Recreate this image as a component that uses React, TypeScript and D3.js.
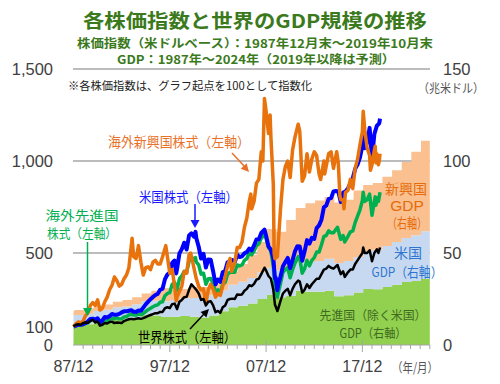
import React from "react";
import * as d3 from "d3";

const W = 500;
const H = 384;

// GDP by calendar year (trillion USD, right axis)
const gdpYears = [1987, 1988, 1989, 1990, 1991, 1992, 1993, 1994, 1995, 1996, 1997, 1998, 1999, 2000, 2001, 2002, 2003, 2004, 2005, 2006, 2007, 2008, 2009, 2010, 2011, 2012, 2013, 2014, 2015, 2016, 2017, 2018, 2019, 2020, 2021, 2022, 2023, 2024];
const gdpAdvExUS = [11, 11, 11.3, 12.5, 13, 14, 14, 14.8, 16.3, 16, 15.2, 15.3, 15.8, 15.3, 15, 16, 18.3, 20.5, 21.3, 22.5, 25, 27.3, 26, 26.7, 29.5, 29, 29, 29.5, 26.5, 27, 28.5, 30.5, 30.3, 31.5, 32.8, 34.2, 34.8, 36];
const gdpUS = [4.87, 5.25, 5.66, 5.98, 6.17, 6.54, 6.88, 7.31, 7.66, 8.1, 8.61, 9.09, 9.66, 10.28, 10.62, 10.98, 11.51, 12.27, 13.09, 13.86, 14.48, 14.72, 14.42, 14.96, 15.52, 16.16, 16.69, 17.39, 18.12, 18.62, 19.39, 20.58, 21.44, 22.3, 23.2, 24.0, 24.9, 25.8];
const gdpEmerging = [2.6, 2.75, 3.04, 2.52, 2.83, 2.96, 3.62, 3.89, 4.04, 5.4, 7.19, 5.61, 5.04, 5.92, 5.88, 6.02, 6.19, 7.23, 9.61, 12.64, 16.52, 20.98, 21.08, 26.34, 29.48, 31.84, 32.81, 33.61, 32.88, 33.38, 36.11, 35.92, 36.26, 37.7, 39, 41.3, 45.3, 49.2];

// Stock indices (USD, 1987/12 = 100, left axis)
const usStocks: [string, number][] = [
  ["1987/12", 100], ["1988/03", 105], ["1988/06", 111], ["1988/09", 110], ["1988/12", 113],
  ["1989/03", 119], ["1989/06", 129], ["1989/09", 141], ["1989/12", 143],
  ["1990/03", 138], ["1990/06", 145], ["1990/09", 124], ["1990/12", 134],
  ["1991/03", 152], ["1991/06", 150], ["1991/09", 157], ["1991/12", 169],
  ["1992/03", 164], ["1992/06", 165], ["1992/09", 169], ["1992/12", 177],
  ["1993/03", 183], ["1993/06", 183], ["1993/09", 186], ["1993/12", 189],
  ["1994/03", 181], ["1994/06", 180], ["1994/09", 187], ["1994/12", 186],
  ["1995/03", 203], ["1995/06", 221], ["1995/09", 236], ["1995/12", 249],
  ["1996/03", 261], ["1996/06", 272], ["1996/09", 278], ["1996/12", 300],
  ["1997/03", 306], ["1997/06", 358], ["1997/09", 383], ["1997/12", 393],
  ["1998/03", 446], ["1998/06", 459], ["1998/08", 389], ["1998/09", 412], ["1998/12", 498],
  ["1999/03", 521], ["1999/06", 556], ["1999/09", 519], ["1999/12", 595],
  ["2000/03", 607], ["2000/06", 589], ["2000/08", 615], ["2000/09", 581], ["2000/12", 534],
  ["2001/03", 470], ["2001/06", 496], ["2001/09", 421], ["2001/12", 465],
  ["2002/03", 464], ["2002/06", 401], ["2002/09", 330], ["2002/12", 356],
  ["2003/03", 343], ["2003/06", 395], ["2003/09", 403], ["2003/12", 450],
  ["2004/03", 456], ["2004/06", 462], ["2004/09", 451], ["2004/12", 491],
  ["2005/03", 478], ["2005/06", 482], ["2005/09", 498], ["2005/12", 505],
  ["2006/03", 524], ["2006/06", 514], ["2006/09", 541], ["2006/12", 574],
  ["2007/03", 575], ["2007/06", 609], ["2007/10", 627], ["2007/12", 594],
  ["2008/03", 536], ["2008/06", 518], ["2008/09", 472], ["2008/11", 363], ["2008/12", 366],
  ["2009/02", 298], ["2009/03", 323], ["2009/06", 372], ["2009/09", 428], ["2009/12", 451],
  ["2010/03", 473], ["2010/06", 417], ["2010/09", 462], ["2010/12", 509],
  ["2011/03", 537], ["2011/06", 535], ["2011/09", 458], ["2011/12", 509],
  ["2012/03", 570], ["2012/06", 551], ["2012/09", 583], ["2012/12", 577],
  ["2013/03", 635], ["2013/06", 650], ["2013/09", 681], ["2013/12", 748],
  ["2014/03", 758], ["2014/06", 794], ["2014/09", 798], ["2014/12", 834],
  ["2015/03", 837], ["2015/06", 835], ["2015/09", 777], ["2015/12", 828],
  ["2016/03", 834], ["2016/06", 850], ["2016/09", 878], ["2016/12", 906],
  ["2017/03", 957], ["2017/06", 981], ["2017/09", 1020], ["2017/12", 1083],
  ["2018/01", 1143], ["2018/03", 1069], ["2018/06", 1100], ["2018/09", 1180], ["2018/12", 1015],
  ["2019/03", 1147], ["2019/06", 1191], ["2019/09", 1205], ["2019/10", 1230],
];

const advStocks: [string, number][] = [
  ["1987/12", 100], ["1988/03", 108], ["1988/06", 112], ["1988/09", 110], ["1988/12", 115],
  ["1989/03", 118], ["1989/06", 122], ["1989/09", 135], ["1989/12", 140],
  ["1990/03", 133], ["1990/06", 140], ["1990/09", 118], ["1990/12", 125],
  ["1991/03", 135], ["1991/06", 133], ["1991/09", 140], ["1991/12", 145],
  ["1992/03", 143], ["1992/06", 148], ["1992/09", 142], ["1992/12", 143],
  ["1993/03", 152], ["1993/06", 155], ["1993/09", 163], ["1993/12", 168],
  ["1994/03", 163], ["1994/06", 163], ["1994/09", 168], ["1994/12", 165],
  ["1995/03", 172], ["1995/06", 182], ["1995/09", 192], ["1995/12", 200],
  ["1996/03", 208], ["1996/06", 215], ["1996/09", 218], ["1996/12", 232],
  ["1997/03", 235], ["1997/06", 268], ["1997/09", 280], ["1997/12", 285],
  ["1998/03", 330], ["1998/06", 340], ["1998/08", 295], ["1998/09", 300], ["1998/12", 360],
  ["1999/03", 375], ["1999/06", 400], ["1999/09", 395], ["1999/12", 455],
  ["2000/03", 480], ["2000/06", 460], ["2000/08", 475], ["2000/09", 450], ["2000/12", 435],
  ["2001/03", 385], ["2001/06", 390], ["2001/09", 330], ["2001/12", 360],
  ["2002/03", 362], ["2002/06", 335], ["2002/09", 290], ["2002/12", 300],
  ["2003/03", 285], ["2003/06", 330], ["2003/09", 340], ["2003/12", 385],
  ["2004/03", 395], ["2004/06", 395], ["2004/09", 395], ["2004/12", 435],
  ["2005/03", 430], ["2005/06", 435], ["2005/09", 460], ["2005/12", 470],
  ["2006/03", 500], ["2006/06", 490], ["2006/09", 510], ["2006/12", 540],
  ["2007/03", 550], ["2007/06", 580], ["2007/10", 600], ["2007/12", 580],
  ["2008/03", 530], ["2008/06", 510], ["2008/09", 425], ["2008/11", 320],
  ["2009/02", 260], ["2009/03", 280], ["2009/06", 335], ["2009/09", 395], ["2009/12", 410],
  ["2010/03", 420], ["2010/06", 365], ["2010/09", 410], ["2010/12", 445],
  ["2011/04", 480], ["2011/06", 470], ["2011/09", 390], ["2011/12", 415],
  ["2012/03", 460], ["2012/06", 430], ["2012/09", 460], ["2012/12", 475],
  ["2013/03", 505], ["2013/06", 505], ["2013/09", 545], ["2013/12", 590],
  ["2014/03", 595], ["2014/06", 620], ["2014/09", 610], ["2014/12", 610],
  ["2015/05", 640], ["2015/09", 575], ["2015/12", 595],
  ["2016/02", 560], ["2016/06", 590], ["2016/09", 615], ["2016/12", 620],
  ["2017/03", 665], ["2017/06", 700], ["2017/09", 735], ["2017/12", 785],
  ["2018/01", 830], ["2018/03", 780], ["2018/06", 790], ["2018/09", 820], ["2018/12", 705],
  ["2019/03", 780], ["2019/04", 805], ["2019/05", 760], ["2019/06", 800], ["2019/08", 780],
  ["2019/09", 805], ["2019/10", 830],
];

const emStocks: [string, number][] = [
  ["1987/12", 100], ["1988/03", 115], ["1988/06", 125], ["1988/09", 120], ["1988/12", 130],
  ["1989/03", 160], ["1989/06", 175], ["1989/09", 215], ["1989/12", 230],
  ["1990/03", 215], ["1990/06", 245], ["1990/09", 190], ["1990/12", 200],
  ["1991/03", 235], ["1991/06", 260], ["1991/09", 300], ["1991/12", 325],
  ["1992/03", 370], ["1992/06", 350], ["1992/09", 320], ["1992/12", 330],
  ["1993/03", 360], ["1993/06", 380], ["1993/09", 420], ["1993/12", 540],
  ["1994/01", 580], ["1994/03", 480], ["1994/06", 470], ["1994/09", 540], ["1994/12", 450],
  ["1995/03", 380], ["1995/06", 420], ["1995/09", 425], ["1995/12", 410],
  ["1996/03", 450], ["1996/06", 460], ["1996/09", 440], ["1996/12", 440],
  ["1997/03", 480], ["1997/07", 540], ["1997/09", 480], ["1997/12", 390],
  ["1998/03", 410], ["1998/06", 320], ["1998/08", 240], ["1998/09", 260], ["1998/12", 290],
  ["1999/03", 320], ["1999/06", 400], ["1999/09", 390], ["1999/12", 490],
  ["2000/02", 500], ["2000/06", 420], ["2000/09", 360], ["2000/12", 320],
  ["2001/03", 300], ["2001/06", 305], ["2001/09", 230], ["2001/12", 300],
  ["2002/03", 330], ["2002/06", 305], ["2002/09", 260], ["2002/12", 280],
  ["2003/03", 270], ["2003/06", 320], ["2003/09", 370], ["2003/12", 430],
  ["2004/03", 470], ["2004/05", 400], ["2004/09", 450], ["2004/12", 530],
  ["2005/03", 530], ["2005/06", 560], ["2005/09", 640], ["2005/12", 690],
  ["2006/03", 780], ["2006/05", 820], ["2006/06", 740], ["2006/09", 780], ["2006/12", 880],
  ["2007/03", 900], ["2007/06", 1050], ["2007/08", 1000], ["2007/10", 1340], ["2007/12", 1270],
  ["2008/03", 1150], ["2008/05", 1250], ["2008/06", 1130], ["2008/09", 870], ["2008/10", 500],
  ["2008/11", 470], ["2009/02", 480], ["2009/03", 540], ["2009/06", 740], ["2009/09", 900],
  ["2009/12", 970], ["2010/03", 1000], ["2010/06", 910], ["2010/09", 1060], ["2010/12", 1130],
  ["2011/04", 1200], ["2011/06", 1160], ["2011/09", 890], ["2011/12", 920],
  ["2012/03", 1040], ["2012/06", 940], ["2012/09", 1010], ["2012/12", 1050],
  ["2013/03", 1030], ["2013/06", 930], ["2013/08", 900], ["2013/12", 1000],
  ["2014/01", 930], ["2014/06", 1040], ["2014/09", 1050], ["2014/12", 960],
  ["2015/04", 1050], ["2015/06", 990], ["2015/08", 810], ["2015/09", 790], ["2015/12", 790],
  ["2016/01", 740], ["2016/03", 830], ["2016/06", 840], ["2016/09", 900], ["2016/12", 850],
  ["2017/03", 960], ["2017/06", 1010], ["2017/09", 1090], ["2017/12", 1160],
  ["2018/01", 1270], ["2018/03", 1170], ["2018/06", 1070], ["2018/09", 1030], ["2018/10", 950],
  ["2018/12", 980], ["2019/03", 1060], ["2019/04", 1080], ["2019/05", 990], ["2019/06", 1040],
  ["2019/08", 980], ["2019/09", 1000], ["2019/10", 1040],
];

const worldStocks: [string, number][] = [
  ["1987/12", 100], ["1988/03", 110], ["1988/06", 113], ["1988/09", 110], ["1988/12", 120],
  ["1989/03", 122], ["1989/06", 120], ["1989/09", 130], ["1989/12", 137],
  ["1990/03", 122], ["1990/06", 128], ["1990/09", 105], ["1990/12", 110],
  ["1991/03", 120], ["1991/06", 117], ["1991/09", 125], ["1991/12", 127],
  ["1992/03", 119], ["1992/06", 122], ["1992/09", 121], ["1992/12", 120],
  ["1993/03", 130], ["1993/06", 135], ["1993/09", 140], ["1993/12", 142],
  ["1994/03", 140], ["1994/06", 143], ["1994/09", 145], ["1994/12", 142],
  ["1995/03", 146], ["1995/06", 152], ["1995/09", 158], ["1995/12", 163],
  ["1996/03", 168], ["1996/06", 173], ["1996/09", 173], ["1996/12", 180],
  ["1997/03", 180], ["1997/06", 200], ["1997/09", 205], ["1997/12", 200],
  ["1998/03", 222], ["1998/06", 225], ["1998/09", 195], ["1998/12", 235],
  ["1999/03", 245], ["1999/06", 260], ["1999/09", 262], ["1999/12", 300],
  ["2000/03", 330], ["2000/06", 315], ["2000/09", 300], ["2000/12", 280],
  ["2001/03", 245], ["2001/06", 250], ["2001/09", 215], ["2001/12", 235],
  ["2002/03", 238], ["2002/06", 215], ["2002/09", 178], ["2002/12", 185],
  ["2003/03", 175], ["2003/06", 205], ["2003/09", 215], ["2003/12", 245],
  ["2004/03", 250], ["2004/06", 252], ["2004/09", 250], ["2004/12", 275],
  ["2005/03", 273], ["2005/06", 275], ["2005/09", 295], ["2005/12", 305],
  ["2006/03", 325], ["2006/06", 320], ["2006/09", 332], ["2006/12", 355],
  ["2007/03", 360], ["2007/06", 385], ["2007/10", 420], ["2007/12", 405],
  ["2008/03", 375], ["2008/06", 360], ["2008/09", 300], ["2008/11", 220],
  ["2009/02", 185], ["2009/03", 195], ["2009/06", 240], ["2009/09", 280], ["2009/12", 295],
  ["2010/03", 305], ["2010/06", 270], ["2010/09", 305], ["2010/12", 330],
  ["2011/04", 350], ["2011/06", 345], ["2011/09", 285], ["2011/12", 300],
  ["2012/03", 330], ["2012/06", 310], ["2012/09", 330], ["2012/12", 345],
  ["2013/03", 360], ["2013/06", 360], ["2013/09", 385], ["2013/12", 410],
  ["2014/03", 415], ["2014/06", 430], ["2014/09", 420], ["2014/12", 415],
  ["2015/05", 435], ["2015/09", 385], ["2015/12", 400],
  ["2016/02", 370], ["2016/06", 395], ["2016/09", 410], ["2016/12", 410],
  ["2017/03", 440], ["2017/06", 460], ["2017/09", 480], ["2017/12", 500],
  ["2018/01", 530], ["2018/03", 500], ["2018/06", 500], ["2018/09", 515], ["2018/12", 455],
  ["2019/03", 500], ["2019/06", 520], ["2019/08", 500], ["2019/10", 530],
];

const leftTicks = [0, 100, 500, 1000, 1500];
const leftTickLabels = ["0", "100", "500", "1,000", "1,500"];
const rightTicks = [0, 50, 100, 150];
const gridValues = [500, 1000, 1500];
const xMajorLabels = ["1987/12", "1997/12", "2007/12", "2017/12"];
const xMajorText = ["87/12", "97/12", "07/12", "17/12"];

const parse = d3.timeParse("%Y/%m");
const num = "'Liberation Sans', Arial, sans-serif";
const jp = "'Noto Sans CJK JP', 'Noto Sans', sans-serif";

function arrowHead(x1: number, y1: number, x2: number, y2: number, len = 8, half = 4) {
  const a = Math.atan2(y2 - y1, x2 - x1);
  const bx = x2 - len * Math.cos(a);
  const by = y2 - len * Math.sin(a);
  const px = -Math.sin(a) * half;
  const py = Math.cos(a) * half;
  return `M${x2},${y2}L${bx + px},${by + py}L${bx - px},${by - py}Z`;
}

export default function App() {
  const start = parse("1987/12")!;
  const end = parse("2024/12")!;
  const x = d3.scaleTime().domain([start, end]).range([73.5, 429.8]);
  const yL = d3.scaleLinear().domain([0, 1500]).range([345, 69]);
  const yR = d3.scaleLinear().domain([0, 150]).range([345, 69]);

  // GDP stacked step areas
  const rows = gdpYears.map((yr, i) => ({
    t: new Date(Math.max(new Date(yr, 0, 1).getTime(), start.getTime())),
    adv: gdpAdvExUS[i],
    us: gdpUS[i],
    em: gdpEmerging[i],
  }));
  rows.push({ ...rows[rows.length - 1], t: end });
  const stack = d3.stack<any>().keys(["adv", "us", "em"])(rows);
  const area = d3
    .area<any>()
    .curve(d3.curveStepAfter)
    .x((d) => x(d.data.t))
    .y0((d) => yR(d[0]))
    .y1((d) => yR(d[1]));
  const areaColors = ["#92d050", "#c6d9f0", "#fac090"];

  const line = d3
    .line<[string, number]>()
    .x((d) => x(parse(d[0])!))
    .y((d) => yL(d[1]));

  const yearTicks = d3.timeYear.range(start, d3.timeMonth.offset(end, 1)).map((d) => d3.timeMonth.offset(d, 11));
  const majorSet = new Set(xMajorLabels.map((s) => +parse(s)!));

  return (
    <svg width={W} height={H} style={{ position: "absolute", left: 0, top: 0, background: "#fff" }}>
      {/* Title */}
      <text x={255} y={19.5} textAnchor="middle" dominantBaseline="central" fontFamily={jp} fontWeight="bold" fontSize={19} fill="#3b7a1c" textLength={344} lengthAdjust="spacingAndGlyphs">
        各株価指数と世界のGDP規模の推移
      </text>
      <text x={255} y={42} textAnchor="middle" dominantBaseline="central" fontFamily={jp} fontWeight="bold" fontSize={12} fill="#3b7a1c" textLength={356} lengthAdjust="spacingAndGlyphs">
        株価指数（米ドルベース）：1987年12月末～2019年10月末
      </text>
      <text x={256} y={58} textAnchor="middle" dominantBaseline="central" fontFamily={jp} fontWeight="bold" fontSize={12} fill="#3b7a1c" textLength={278} lengthAdjust="spacingAndGlyphs">
        GDP：1987年～2024年（2019年以降は予測）
      </text>

      {/* grid */}
      {gridValues.map((v) => (
        <line key={v} x1={73} x2={430} y1={yL(v)} y2={yL(v)} stroke="#a6a6a6" strokeWidth={1.5} />
      ))}

      {/* GDP areas */}
      {stack.map((s, i) => (
        <path key={i} d={area(s) || ""} fill={areaColors[i]} />
      ))}

      {/* x axis */}
      <line x1={73} x2={430} y1={345} y2={345} stroke="#a6a6a6" strokeWidth={1} />
      {yearTicks.map((d) => {
        const major = majorSet.has(+d);
        return <line key={+d} x1={x(d)} x2={x(d)} y1={major ? 340 : 345} y2={major ? 352 : 349} stroke="#a6a6a6" strokeWidth={1} />;
      })}
      {xMajorLabels.map((s, i) => (
        <text key={s} x={x(parse(s)!)} y={366} textAnchor="middle" dominantBaseline="central" fontFamily={num} fontSize={16} fill="#404040">
          {xMajorText[i]}
        </text>
      ))}
      <text x={415} y={366} textAnchor="middle" dominantBaseline="central" fontFamily={jp} fontSize={13} fill="#555" textLength={46} lengthAdjust="spacingAndGlyphs">
        （年/月）
      </text>

      {/* left axis labels */}
      {leftTicks.map((v, i) => (
        <text key={v} x={53} y={yL(v)} textAnchor="end" dominantBaseline="central" fontFamily={num} fontSize={16.5} fill="#404040">
          {leftTickLabels[i]}
        </text>
      ))}
      {/* right axis labels */}
      {rightTicks.map((v) => (
        <text key={v} x={443} y={yR(v)} textAnchor="start" dominantBaseline="central" fontFamily={num} fontSize={16.5} fill="#404040">
          {v}
        </text>
      ))}
      <text x={451} y={87} textAnchor="middle" dominantBaseline="central" fontFamily={jp} fontSize={12.5} fill="#555" textLength={66} lengthAdjust="spacingAndGlyphs">
        （兆米ドル）
      </text>

      <text x={68} y={85} dominantBaseline="central" fontFamily={jp} fontSize={11.5} fill="#222" textLength={244} lengthAdjust="spacingAndGlyphs">
        ※各株価指数は、グラフ起点を100として指数化
      </text>

      {/* stock lines */}
      <path d={line(advStocks) || ""} fill="none" stroke="#00b050" strokeWidth={3.5} strokeLinejoin="round" />
      <path d={line(usStocks) || ""} fill="none" stroke="#0000ff" strokeWidth={4} strokeLinejoin="round" />
      <path d={line(emStocks) || ""} fill="none" stroke="#e8720c" strokeWidth={3.5} strokeLinejoin="round" />
      <path d={line(worldStocks) || ""} fill="none" stroke="#000" strokeWidth={2.5} strokeLinejoin="round" />

      {/* annotations */}
      <text x={179} y={141} textAnchor="middle" dominantBaseline="central" fontFamily={jp} fontSize={14} fill="#e8722a" textLength={142} lengthAdjust="spacingAndGlyphs">
        海外新興国株式（左軸）
      </text>
      <line x1={232} y1={153} x2={245} y2={167} stroke="#e8722a" strokeWidth={1.5} />
      <path d={arrowHead(232, 153, 249, 172, 8, 4)} fill="#e8722a" />

      <text x={188.5} y={196} textAnchor="middle" dominantBaseline="central" fontFamily={jp} fontSize={14} fill="#1a1aff" textLength={99} lengthAdjust="spacingAndGlyphs">
        米国株式（左軸）
      </text>
      <line x1={195} y1={204} x2={195} y2={221} stroke="#1a1aff" strokeWidth={1.5} />
      <path d={arrowHead(195, 204, 195, 228, 8, 4.5)} fill="#1a1aff" />

      <text x={82} y={214.5} textAnchor="middle" dominantBaseline="central" fontFamily={jp} fontSize={12.8} fill="#00b050" textLength={73} lengthAdjust="spacingAndGlyphs">
        海外先進国
      </text>
      <text x={82} y={232} textAnchor="middle" dominantBaseline="central" fontFamily={jp} fontSize={12.8} fill="#00b050" textLength={70} lengthAdjust="spacingAndGlyphs">
        株式（左軸）
      </text>
      <line x1={87.5} y1={242} x2={87.5} y2={309} stroke="#00b050" strokeWidth={1.5} />
      <path d={arrowHead(87.5, 242, 87.5, 316, 8, 4.5)} fill="#00b050" />

      <text x={187} y={336} textAnchor="middle" dominantBaseline="central" fontFamily={jp} fontSize={14} fill="#000" textLength={98} lengthAdjust="spacingAndGlyphs">
        世界株式（左軸）
      </text>
      <line x1={190} y1={329} x2={204} y2={314} stroke="#000" strokeWidth={1.5} />
      <path d={arrowHead(190, 329, 209, 309, 8, 4)} fill="#000" />

      <text x={406} y={188} textAnchor="middle" dominantBaseline="central" fontFamily={jp} fontSize={13.5} fill="#e46c0a" textLength={42} lengthAdjust="spacingAndGlyphs">
        新興国
      </text>
      <text x={407} y={205} textAnchor="middle" dominantBaseline="central" fontFamily={num} fontSize={15.5} fill="#e46c0a">
        GDP
      </text>
      <text x={407} y={222} textAnchor="middle" dominantBaseline="central" fontFamily={jp} fontSize={13.5} fill="#e46c0a" textLength={40} lengthAdjust="spacingAndGlyphs">
        （右軸）
      </text>

      <text x={408} y={251.5} textAnchor="middle" dominantBaseline="central" fontFamily={jp} fontSize={13.5} fill="#2e75d0" textLength={28} lengthAdjust="spacingAndGlyphs">
        米国
      </text>
      <text x={407} y={270.5} textAnchor="middle" dominantBaseline="central" fontFamily={jp} fontSize={13.5} fill="#2e75d0" textLength={71} lengthAdjust="spacingAndGlyphs">
        GDP（右軸）
      </text>

      <text x={373} y={314.5} textAnchor="middle" dominantBaseline="central" fontFamily={jp} fontSize={12.5} fill="#3f6a1e" textLength={107} lengthAdjust="spacingAndGlyphs">
        先進国（除く米国）
      </text>
      <text x={373} y={332.5} textAnchor="middle" dominantBaseline="central" fontFamily={jp} fontSize={12.5} fill="#3f6a1e" textLength={67} lengthAdjust="spacingAndGlyphs">
        GDP（右軸）
      </text>
    </svg>
  );
}
